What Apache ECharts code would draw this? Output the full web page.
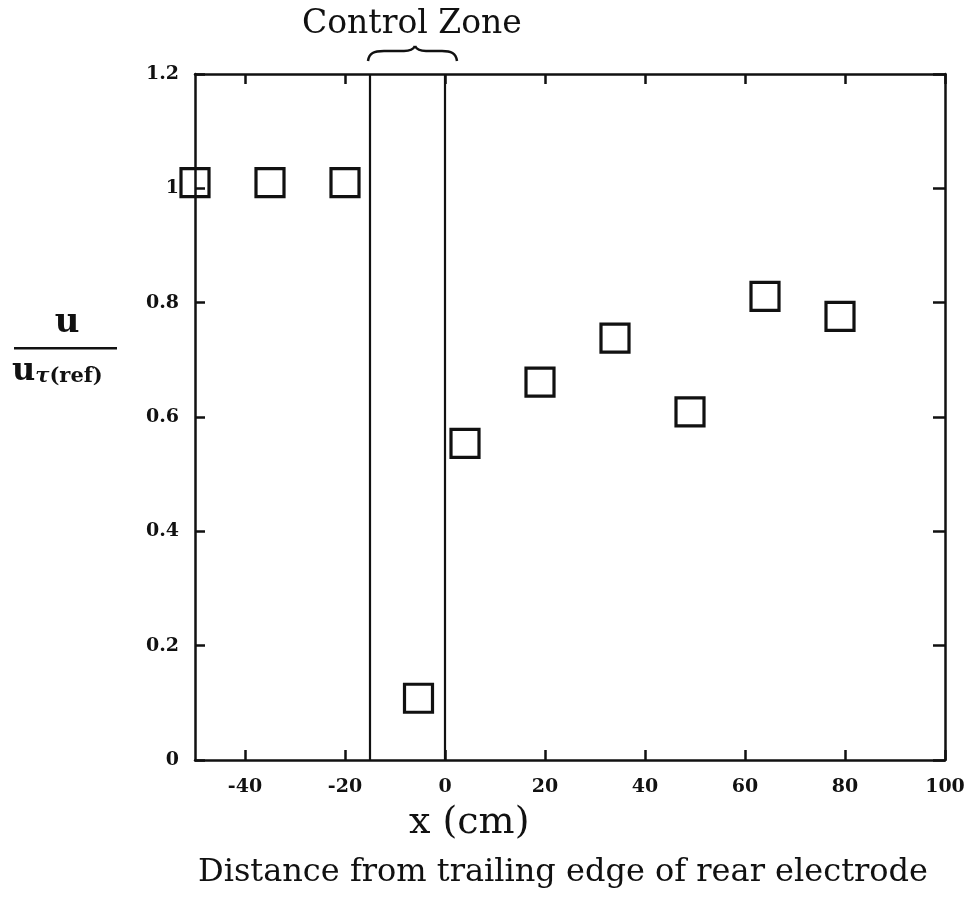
<!DOCTYPE html>
<html>
<head>
<meta charset="utf-8">
<script src="https://cdn.jsdelivr.net/npm/echarts@6/dist/echarts.min.js"></script>
<style>html,body{margin:0;padding:0;background:#fff}#c{width:969px;height:904px}</style>
</head>
<body>
<div id="c"></div>
<script>
// Data
const xPositions = [-50, -35, -20, -5.3, 4, 19, 34, 49, 64, 79];
const uRatio = [1.01, 1.01, 1.01, 0.108, 0.554, 0.661, 0.738, 0.609, 0.811, 0.776];
const controlZone = [-15, 0];
const xTickValues = [-40, -20, 0, 20, 40, 60, 80, 100];
const titleText = 'Control Zone';
const xUnitText = 'x (cm)';
const xDescText = 'Distance from trailing edge of rear electrode';

const points = xPositions.map((x, i) => [x, uRatio[i]]);
const serif = '"DejaVu Serif", serif';
const lineStyle = { color: '#111', width: 2.5 };
const axisLineOpt = { show: true, onZero: false, lineStyle: lineStyle };

// brace decoration segments (pixel geometry)
function bez(x1, y1, cpx1, cpy1, cpx2, cpy2, x2, y2) {
  return { type: 'bezierCurve', shape: { x1, y1, cpx1, cpy1, cpx2, cpy2, x2, y2 },
    style: { stroke: '#111', lineWidth: 2.5, fill: null } };
}
function seg(x1, y1, x2, y2) {
  return { type: 'line', shape: { x1, y1, x2, y2 }, style: { stroke: '#111', lineWidth: 2.5 } };
}

const chart = echarts.init(document.getElementById('c'), null, { renderer: 'canvas' });
chart.setOption({
  backgroundColor: '#fff',
  animation: false,
  grid: { left: 195, right: 24, top: 74, bottom: 144 },
  xAxis: [
    {
      type: 'value', position: 'bottom', min: -50, max: 100,
      axisLine: axisLineOpt,
      axisTick: { show: true, inside: true, length: 10, lineStyle: lineStyle, customValues: xTickValues },
      axisLabel: { show: true, margin: 18, customValues: xTickValues, color: '#111',
        fontFamily: serif, fontWeight: 'bold', fontSize: 19 },
      splitLine: { show: false }
    },
    {
      type: 'value', position: 'top', min: -50, max: 100,
      axisLine: axisLineOpt,
      axisTick: { show: true, inside: true, length: 10, lineStyle: lineStyle, customValues: xTickValues },
      axisLabel: { show: false },
      splitLine: { show: false }
    }
  ],
  yAxis: [
    {
      type: 'value', position: 'left', min: 0, max: 1.2, interval: 0.2,
      axisLine: axisLineOpt,
      axisTick: { show: true, inside: true, length: 10, lineStyle: lineStyle },
      axisLabel: { show: true, margin: 16, color: '#111', fontFamily: serif, fontWeight: 'bold', fontSize: 19 },
      splitLine: { show: false }
    },
    {
      type: 'value', position: 'right', min: 0, max: 1.2, interval: 0.2,
      axisLine: axisLineOpt,
      axisTick: { show: true, inside: true, length: 12, lineStyle: lineStyle },
      axisLabel: { show: false },
      splitLine: { show: false }
    }
  ],
  series: [
    {
      type: 'scatter',
      xAxisIndex: 0, yAxisIndex: 0,
      data: points,
      clip: false,
      symbol: 'rect',
      symbolSize: 28,
      itemStyle: { color: 'rgba(0,0,0,0)', borderColor: '#111', borderWidth: 3.2, opacity: 1 },
      emphasis: { disabled: true },
      markLine: {
        silent: true, symbol: 'none', animation: false,
        label: { show: false },
        lineStyle: { color: '#111', width: 2.2, type: 'solid', opacity: 1 },
        data: controlZone.map(v => ({ xAxis: v }))
      },
      z: 5
    }
  ],
  graphic: [
    { type: 'text', left: 302, top: 8,
      style: { text: titleText, font: '33px ' + serif, fill: '#111' } },
    bez(368, 61, 369, 53, 374, 51, 384, 51),
    seg(384, 51, 404, 51),
    bez(404, 51, 410, 51, 413, 50, 415, 46),
    bez(415, 46, 417, 50, 420, 51, 426, 51),
    seg(426, 51, 442, 51),
    bez(442, 51, 451, 51, 456, 53, 457, 61),
    { type: 'text', left: 409, top: 804,
      style: { text: xUnitText, font: '38px ' + serif, fill: '#111' } },
    { type: 'text', left: 198, top: 857,
      style: { text: xDescText, font: '32px ' + serif, fill: '#111' } },
    { type: 'text', x: 67, y: 340,
      style: { text: 'u', font: 'bold 34px ' + serif, fill: '#111', align: 'center', verticalAlign: 'bottom' } },
    { type: 'rect', shape: { x: 14, y: 347, width: 103, height: 2.5 }, style: { fill: '#111' } },
    { type: 'text', x: 12, y: 356,
      style: {
        text: '{u|u}{t|τ}{s|(ref)}',
        rich: {
          u: { font: 'bold 32px ' + serif, fill: '#111', verticalAlign: 'bottom' },
          t: { font: 'italic bold 21px ' + serif, fill: '#111', padding: [10, 0, 0, 0] },
          s: { font: 'bold 21px ' + serif, fill: '#111', padding: [10, 0, 0, 0] }
        }
      } }
  ]
});
</script>
</body>
</html>
